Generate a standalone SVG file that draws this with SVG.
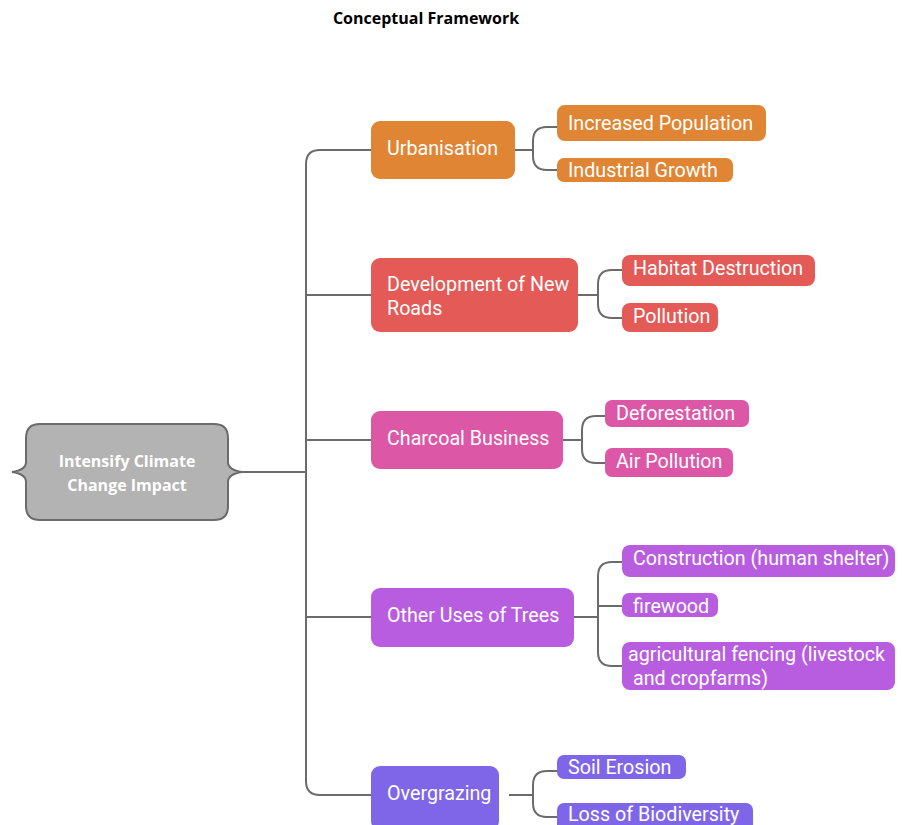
<svg xmlns="http://www.w3.org/2000/svg" width="902" height="825" viewBox="0 0 902 825">
<style>
.t{font-family:Roboto,"Liberation Sans",sans-serif;font-size:19.7px;fill:#ffffff}
.c{fill:none;stroke:#6b6b6b;stroke-width:2}
.o{fill:#DF8533}.r{fill:#E35A56}.p{fill:#DC57A6}.v{fill:#B85DE0}.b{fill:#7F66E8}
</style>
<rect width="902" height="825" fill="#ffffff"/>
<text x="426" y="24" text-anchor="middle" font-family="'Open Sans','Liberation Sans',sans-serif" font-weight="bold" font-size="16" fill="#000">Conceptual Framework</text>
<g id="connectors">
<path class="c" d="M240 472 H306"/>
<path class="c" d="M371 150 H320 Q306 150 306 164 V781 Q306 795 320 795 H371"/>
<path class="c" d="M306 295 H371 M306 440 H371 M306 617 H371"/>
<path class="c" d="M510 150 H533 M557 127 H547 Q533 127 533 141 V156 Q533 170 547 170 H557"/>
<path class="c" d="M578 295 H598 M622 270 H612 Q598 270 598 284 V304 Q598 318 612 318 H622"/>
<path class="c" d="M558 440 H582 M605 416 H596 Q582 416 582 430 V449 Q582 463 596 463 H605"/>
<path class="c" d="M574 617 H598 M622 562 H612 Q598 562 598 576 V652 Q598 666 612 666 H622 M598 606 H622"/>
<path class="c" d="M509 795 H533 M557 771 H547 Q533 771 533 785 V803 Q533 817 547 817 H557"/>
</g>
<g id="root">
<path d="M40 424 H214 Q228 424 228 438 V462 Q228 470 242 472 Q228 474 228 482 V506 Q228 520 214 520 H40 Q26 520 26 506 V482 Q26 474 12 472 Q26 470 26 462 V438 Q26 424 40 424 Z" fill="#B3B3B3" stroke="#6b6b6b" stroke-width="2"/>
<text x="127" y="467" text-anchor="middle" font-family="'Open Sans','Liberation Sans',sans-serif" font-weight="bold" font-size="16" fill="#ffffff">Intensify Climate</text>
<text x="127" y="491" text-anchor="middle" font-family="'Open Sans','Liberation Sans',sans-serif" font-weight="bold" font-size="16" fill="#ffffff">Change Impact</text>
</g>
<g id="urbanisation"><rect class="o" x="371" y="121" width="144" height="58" rx="9"/><text class="t" x="387" y="155">Urbanisation</text></g>
<g id="increased-population"><rect class="o" x="557" y="105" width="209" height="36" rx="8"/><text class="t" x="568" y="130">Increased Population</text></g>
<g id="industrial-growth"><rect class="o" x="557" y="158" width="176" height="24" rx="7"/><text class="t" x="568" y="177">Industrial Growth</text></g>
<g id="roads"><rect class="r" x="371" y="258" width="207" height="74" rx="9"/><text class="t" x="387" y="291">Development of New</text><text class="t" x="387" y="315">Roads</text></g>
<g id="habitat-destruction"><rect class="r" x="622" y="255" width="193" height="31" rx="8"/><text class="t" x="633" y="275">Habitat Destruction</text></g>
<g id="pollution"><rect class="r" x="622" y="303" width="96" height="29" rx="8"/><text class="t" x="633" y="323">Pollution</text></g>
<g id="charcoal"><rect class="p" x="371" y="411" width="192" height="58" rx="9"/><text class="t" x="387" y="445">Charcoal Business</text></g>
<g id="deforestation"><rect class="p" x="605" y="400" width="144" height="27" rx="7"/><text class="t" x="616" y="420">Deforestation</text></g>
<g id="air-pollution"><rect class="p" x="605" y="448" width="128" height="29" rx="7"/><text class="t" x="616" y="468">Air Pollution</text></g>
<g id="other-uses"><rect class="v" x="371" y="588" width="203" height="59" rx="9"/><text class="t" x="387" y="622">Other Uses of Trees</text></g>
<g id="construction"><rect class="v" x="622" y="545" width="273" height="32" rx="8"/><text class="t" x="633" y="565">Construction (human shelter)</text></g>
<g id="firewood"><rect class="v" x="622" y="593" width="96" height="24" rx="7"/><text class="t" x="633" y="613">firewood</text></g>
<g id="fencing"><rect class="v" x="622" y="642" width="273" height="48" rx="8"/><text class="t" x="628" y="661">agricultural fencing (livestock</text><text class="t" x="633" y="685">and cropfarms)</text></g>
<g id="overgrazing"><rect class="b" x="371" y="766" width="128" height="64" rx="9"/><text class="t" x="387" y="800">Overgrazing</text></g>
<g id="soil-erosion"><rect class="b" x="557" y="755" width="129" height="24" rx="7"/><text class="t" x="568" y="774">Soil Erosion</text></g>
<g id="loss-biodiversity"><rect class="b" x="557" y="803" width="196" height="30" rx="7"/><text class="t" x="568" y="821">Loss of Biodiversity</text></g>
</svg>
